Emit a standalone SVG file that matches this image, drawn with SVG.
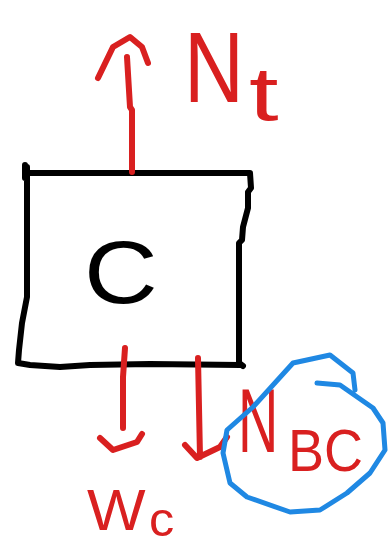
<svg xmlns="http://www.w3.org/2000/svg" width="391" height="548" viewBox="0 0 391 548">
<style>
.blk{fill:none;stroke:#000;stroke-width:6;stroke-linecap:round;stroke-linejoin:round}
.red{fill:none;stroke:#d92020;stroke-width:6;stroke-linecap:round;stroke-linejoin:round}
.blu{fill:none;stroke:#1f88e3;stroke-width:5;stroke-linecap:round;stroke-linejoin:round}
.tr{fill:#d92020;font-family:"Liberation Sans",Arial,sans-serif}
.tk{fill:#000;font-family:"Liberation Sans",Arial,sans-serif}
</style>
<rect width="391" height="548" fill="#fff"/>
<g id="nodeC">
<path class="blk" d="M25,165 L25,178 M25,173 L250,173 L251,188 L248,192 L248,208 L243,227 L242,240 L239,243 L239,363 L243,366 M27,167 L27,297 L22,323 L19,350 L18,363 L30,365 L60,367 L90,365 L150,364 L240,365"/>
<text class="tk" transform="translate(84,303) scale(1.16,1)" font-size="88">C</text>
</g>
<g id="connectors">
<path class="red" d="M132,172 L132,110 L130,107 L127,57 M98,78 L113,47 L130,37 L142,47 L148,63"/>
<path class="red" d="M125,348 L123,377 L123,428 M100,438 L113,450 L137,442 L142,434"/>
<path class="red" d="M198,358 L200,457 M185,445 L197,458 L220,447 L227,437"/>
</g>
<g id="labelNt">
<text class="tr" transform="translate(184,102) scale(0.83,1)" font-size="100">N</text>
<text class="tr" transform="translate(249,120) scale(1.4,1)" font-size="76">t</text>
</g>
<g id="labelWc">
<text class="tr" transform="translate(87,530) scale(1.07,1)" font-size="58">W</text>
<text class="tr" transform="translate(149,536) scale(1.05,1)" font-size="48">c</text>
</g>
<g id="labelNBC">
<text class="tr" transform="translate(238,452) scale(0.62,1)" font-size="90">N</text>
<text class="tr" transform="translate(288,471) scale(0.9,1)" font-size="60">BC</text>
<path class="blu" d="M317,383 L340,385 L373,408 L383,423 L385,450 L370,473 L347,493 L320,510 L290,512 L247,497 L230,483 L223,453 L227,430 L253,407 L293,363 L330,355 L353,373 L355,390"/>
</g>
</svg>
